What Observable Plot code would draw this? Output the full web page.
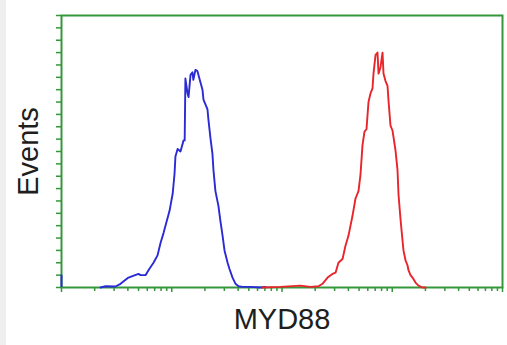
<!DOCTYPE html>
<html>
<head>
<meta charset="utf-8">
<script src="https://cdn.jsdelivr.net/npm/d3@7"></script>
<script src="https://cdn.jsdelivr.net/npm/@observablehq/plot@0.6"></script>
<style>
  html, body { margin: 0; padding: 0; width: 507px; height: 345px; overflow: hidden;
    background: linear-gradient(to right, #efefef 6px, #ffffff 6px); }
  svg { display: block; }
</style>
</head>
<body>
<div id="chart"></div>
<script>
// Fluorescence intensity (log scale) and event counts
const blueX = [2.26, 2.51, 3.09, 3.43, 4.05, 4.99, 5.21, 5.78, 6.15, 6.83, 7.43, 7.91, 8.42, 8.96, 9.55, 10.2, 10.6, 10.8, 11.3, 12.0, 12.8, 13.1, 13.3, 13.9, 14.2, 14.8, 15.4, 15.7, 16.4, 17.1, 18.2, 19.0, 19.4, 21.1, 21.5, 22.5, 23.4, 23.9, 24.9, 26.5, 27.7, 28.9, 30.1, 32.1, 33.4, 35.6, 37.9, 40.3, 43.8, 51.8, 63.8, 70.8];
const blueY = [0.0, 0.1, 0.08, 0.3, 0.8, 1.1, 1.0, 1.0, 1.4, 2.0, 2.6, 3.6, 4.4, 5.3, 6.2, 7.6, 9.2, 10.6, 11.2, 11.0, 11.9, 11.9, 16.9, 15.7, 15.4, 17.2, 17.4, 16.8, 17.6, 17.5, 16.6, 16.0, 15.2, 14.4, 13.6, 12.0, 10.8, 9.5, 7.8, 6.6, 5.3, 4.2, 3.0, 2.0, 1.5, 0.8, 0.3, 0.1, 0.05, 0.05, 0.0, 0.05];
const redX = [66.5, 96.9, 147, 181, 214, 233, 259, 287, 306, 325, 354, 377, 401, 436, 464, 494, 515, 537, 560, 584, 609, 635, 662, 676, 705, 735, 751, 782, 816, 833, 869, 906, 925, 964, 1005, 1070, 1116, 1140, 1189, 1239, 1265, 1319, 1375, 1404, 1464, 1527, 1626, 1730, 1880, 2005];
const redY = [0.0, 0.05, 0.15, 0.05, 0.1, 0.3, 0.8, 1.1, 1.2, 2.0, 2.3, 3.4, 4.2, 5.8, 7.2, 7.8, 9.1, 11.5, 12.6, 12.8, 15.0, 15.7, 16.1, 17.3, 18.8, 19.0, 17.3, 17.8, 19.0, 17.3, 16.7, 16.3, 15.1, 13.1, 12.7, 11.1, 9.5, 7.5, 5.5, 3.8, 3.0, 2.2, 1.8, 1.4, 1.0, 0.8, 0.4, 0.15, 0.0, 0.0];
const blueEdgeX = [1];
const blueEdgeY = [1.0];
const xLabel = "MYD88";
const yLabel = "Events";
const decades = [1, 10, 100, 1000, 10000];
const minorSteps = [2, 3, 4, 5, 6, 7, 8, 9];
const yTicks = d3.range(0, 23);

const green = "#34983a";
const blueColor = "#2a2ad6";
const redColor = "#e9242b";

const blue = blueX.map((x, i) => ({x, y: blueY[i]}));
const red = redX.map((x, i) => ({x, y: redY[i]}));
const edge = blueEdgeX.map((x, i) => ({x, y: blueEdgeY[i]}));
const minorTicks = decades.slice(0, -1).flatMap(d => minorSteps.map(m => d * m));

const chart = Plot.plot({
  width: 507,
  height: 345,
  marginLeft: 61,
  marginRight: 5,
  marginTop: 15,
  marginBottom: 58,
  x: {type: "log", domain: [1, 10000]},
  y: {domain: [0, 22]},
  style: {background: "transparent", fontFamily: "'Liberation Sans', Arial, sans-serif"},
  marks: [
    Plot.axisX({ticks: minorTicks, tickSize: 4, tickFormat: () => "", label: null, stroke: green, strokeWidth: 1.5, strokeOpacity: 1}),
    Plot.axisX({ticks: decades, tickSize: 5, tickFormat: () => "", label: null, stroke: green, strokeWidth: 1.5, strokeOpacity: 1}),
    Plot.axisY({ticks: yTicks, tickSize: 5, tickFormat: () => "", label: null, stroke: green, strokeWidth: 1.5, strokeOpacity: 1}),
    Plot.frame({stroke: green, strokeWidth: 2}),
    Plot.ruleX(edge, {x: "x", y1: 0, y2: "y", stroke: blueColor, strokeWidth: 2}),
    Plot.line(blue, {x: "x", y: "y", stroke: blueColor, strokeWidth: 1.9}),
    Plot.line(red, {x: "x", y: "y", stroke: redColor, strokeWidth: 1.9}),
    Plot.text([yLabel], {text: d => d, frameAnchor: "left", textAnchor: "middle", lineAnchor: "middle", dx: -33, rotate: -90, fontSize: 29, fill: "#1e1e1e"}),
    Plot.text([xLabel], {text: d => d, frameAnchor: "bottom", textAnchor: "middle", dy: 41, fontSize: 29, fill: "#1e1e1e"})
  ]
});
document.getElementById("chart").appendChild(chart);
</script>
</body>
</html>
